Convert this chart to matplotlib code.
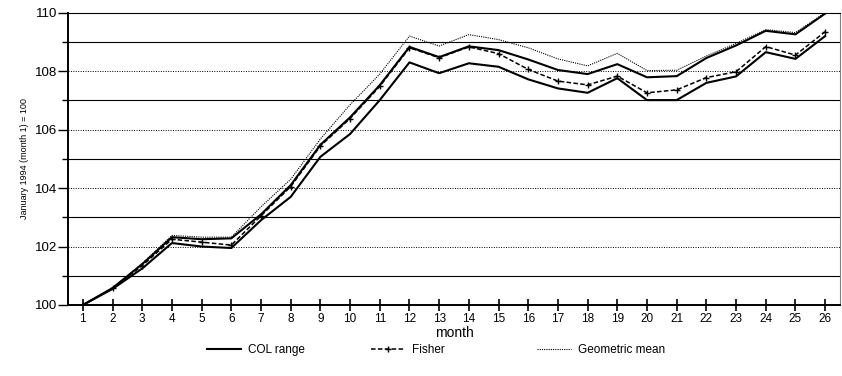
import numpy as np
import matplotlib.pyplot as plt

plt.rcParams['font.family'] = ['Liberation Sans', 'DejaVu Sans']

# months 1..26
months = np.arange(1, 27)

# COL range (upper and lower bounds), Fisher and geometric mean indexes
col_upper = [100, 100.58, 101.40, 102.32, 102.25, 102.28, 103.10, 104.10, 105.48, 106.42,
             107.52, 108.83, 108.48, 108.85, 108.72, 108.40, 108.04, 107.90, 108.24, 107.79,
             107.83, 108.45, 108.88, 109.38, 109.26, 109.97]
col_lower = [100, 100.55, 101.25, 102.12, 102.00, 101.95, 102.90, 103.70, 105.07, 105.85,
             107.01, 108.30, 107.93, 108.27, 108.15, 107.72, 107.41, 107.26, 107.76, 107.01,
             107.01, 107.60, 107.82, 108.65, 108.42, 109.20]
fisher = [100, 100.57, 101.35, 102.25, 102.15, 102.05, 103.05, 104.05, 105.44, 106.38,
          107.48, 108.80, 108.46, 108.83, 108.60, 108.06, 107.66, 107.53, 107.83, 107.26,
          107.36, 107.78, 107.98, 108.84, 108.55, 109.35]
geo_mean = [100, 100.58, 101.42, 102.38, 102.32, 102.32, 103.36, 104.30, 105.68, 106.85,
            107.90, 109.20, 108.86, 109.25, 109.08, 108.80, 108.42, 108.18, 108.61, 108.02,
            108.03, 108.52, 108.95, 109.42, 109.32, 110.00]

fig = plt.figure(figsize=(8.42, 3.76), dpi=100)
ax = fig.add_axes([68 / 842, 1 - 305 / 376, (840 - 68) / 842, (305 - 12.7) / 376])

# grid: odd values solid, even values dotted
for v in range(101, 111):
    if v % 2 == 1:
        ax.axhline(v, color='black', lw=0.8, zorder=1)
    else:
        ax.axhline(v, color='black', lw=0.7, ls=(0, (1, 1.5)), zorder=1)

l_geo, = ax.plot(months, geo_mean, color='black', lw=0.8, ls=(0, (1, 1)), zorder=3)
l_col, = ax.plot(months, col_upper, color='black', lw=1.5, zorder=4)
l_fis, = ax.plot(months, fisher, color='black', lw=1.1, ls=(0, (3, 1.5)), marker='+',
                 ms=4, mew=1, zorder=4)
ax.plot(months, col_lower, color='black', lw=1.5, zorder=4)

ax.set_xlim(0.5, 26.5)
ax.set_ylim(100, 110)
ax.set_xticks(months)
ax.set_yticks(range(100, 111, 2))
ax.set_yticks(range(101, 110, 2), minor=True)
ax.tick_params(axis='x', direction='inout', length=9, width=1.2, labelsize=8.5, pad=1)
ax.tick_params(axis='y', which='major', direction='out', length=7, width=1, labelsize=9.5,
               pad=1)
ax.tick_params(axis='y', which='minor', direction='out', length=4, width=1)

for s in ['left', 'bottom']:
    ax.spines[s].set_linewidth(1.4)
ax.spines['top'].set_linewidth(0.8)
ax.spines['right'].set_linewidth(0.8)
ax.spines['right'].set_color('0.5')

ax.set_xlabel('month', fontsize=10, labelpad=1)
ax.set_ylabel('January 1994 (month 1) = 100', fontsize=6.5, labelpad=4)

# legend entries below the plot
entries = [(l_col, 'COL range', 207), (l_fis, 'Fisher', 371), (l_geo, 'Geometric mean', 537)]
for handle, text, xpix in entries:
    fig.legend([handle], [text], loc='center left', bbox_to_anchor=(xpix / 842, 0.069),
               frameon=False, fontsize=8.5, handlelength=2.9, handletextpad=0.6,
               borderpad=0, borderaxespad=0)

fig.savefig('out.png', dpi=100)
